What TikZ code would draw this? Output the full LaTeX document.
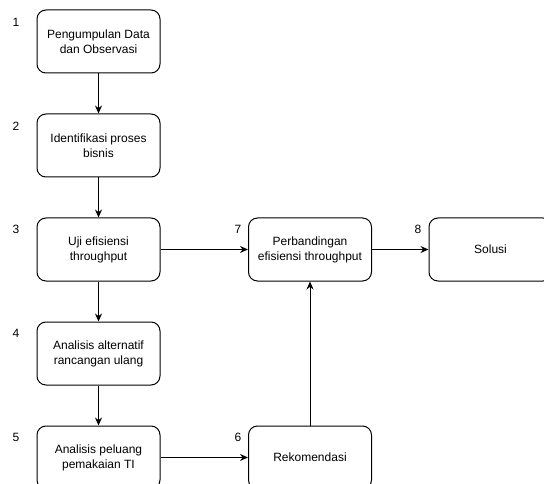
\documentclass[tikz,border=0pt]{standalone}
\usepackage{fontspec}
\setmainfont{Liberation Sans}
\usetikzlibrary{arrows.meta}

\begin{document}
\begin{tikzpicture}[x=1pt, y=-1pt,
  font=\fontsize{12}{15}\selectfont,
  box/.style={draw, line width=1pt, rounded corners=9pt, minimum width=123pt,
    minimum height=63pt, align=center, inner sep=0pt},
  arr/.style={line width=1pt, -{Stealth[length=8pt,width=7pt]}},
  num/.style={inner sep=0pt}]

\useasboundingbox (0,0) rectangle (544,484);
\clip (0,0) rectangle (544,484);

% langkah
\node[box] (data) at (98.5,41.5) {Pengumpulan Data\\dan Observasi};
\node[box] (ident) at (98.5,145.5) {Identifikasi proses\\bisnis};
\node[box] (uji) at (98.5,249.5) {Uji efisiensi\\throughput};
\node[box] (alt) at (98.5,353.5) {Analisis alternatif\\rancangan ulang};
\node[box] (peluang) at (98.5,457.5) {Analisis peluang\\pemakaian TI};
\node[box] (rekom) at (310,457.5) {Rekomendasi};
\node[box] (banding) at (310,249.5) {Perbandingan\\efisiensi throughput};
\node[box] (solusi) at (490.5,249.5) {Solusi};

% nomor
\node[num] (n1) at (16,22) {1};
\node[num] (n2) at (16,126) {2};
\node[num] (n3) at (16,229) {3};
\node[num] (n4) at (16,333) {4};
\node[num] (n5) at (16,437) {5};
\node[num] (n6) at (238,437) {6};
\node[num] (n7) at (238,229) {7};
\node[num] (n8) at (418,229) {8};

\draw[arr] (data) -- (ident);
\draw[arr] (ident) -- (uji);
\draw[arr] (uji) -- (alt);
\draw[arr] (alt) -- (peluang);
\draw[arr] (peluang) -- (rekom);
\draw[arr] (rekom) -- (banding);
\draw[arr] (uji) -- (banding);
\draw[arr] (banding) -- (solusi);

\end{tikzpicture}
\end{document}
